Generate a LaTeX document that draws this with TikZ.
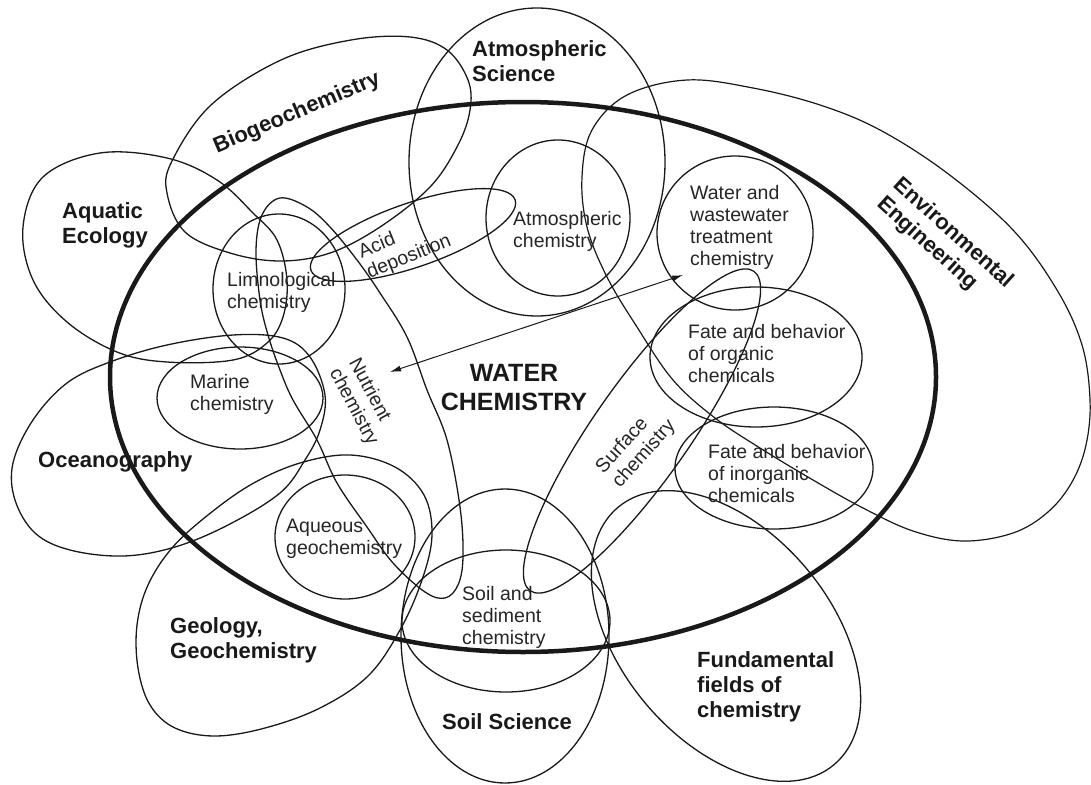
\documentclass[tikz,border=0pt]{standalone}
\usepackage{fontspec}
\setmainfont{Liberation Sans}
\usetikzlibrary{arrows.meta}
\begin{document}
\begin{tikzpicture}[x=1pt,y=-1pt,
  ring/.style={line width=1.3pt, black!90},
  mainring/.style={line width=4.5pt, black!90},
  boldlab/.style={font=\fontsize{22}{25}\selectfont\bfseries, align=left, inner sep=0pt, text=black!90},
  smalllab/.style={font=\fontsize{19.5}{22}\selectfont, align=left, inner sep=0pt, text=black!85},
  biglab/.style={font=\fontsize{25}{29}\selectfont\bfseries, align=center, inner sep=0pt, text=black!90},
  dblarrow/.style={line width=1pt, black!90, {Latex[length=11pt,width=6pt]}-{Latex[length=11pt,width=6pt]}}
]
\fill[white] (0,0) rectangle (1091,784);
\useasboundingbox (0,0) rectangle (1091,784);

% main water chemistry ellipse
\draw[mainring] (523,377) ellipse [x radius=413, y radius=275];

% Atmospheric Science
\draw[ring] (537,162) ellipse [x radius=128, y radius=154];
% Atmospheric chemistry
\draw[ring] (558,218) ellipse [x radius=72, y radius=78];
% Acid deposition
\draw[ring, rotate around={19:(413,235)}] (413,235) ellipse [x radius=108, y radius=32];
% Water and wastewater
\draw[ring] (735,233) ellipse [x radius=78, y radius=77];
% Fate organic
\draw[ring] (756,357) ellipse [x radius=106, y radius=70];
% Fate inorganic
\draw[ring] (774,468) ellipse [x radius=99, y radius=61];
% Limnological
\draw[ring] (279,289) ellipse [x radius=66, y radius=75];
% Marine
\draw[ring] (240,398) ellipse [x radius=83, y radius=51];
% Aqueous
\draw[ring] (345,537) ellipse [x radius=70, y radius=62];
% Soil science and soil sediment
\draw[ring] (505,636) ellipse [x radius=104, y radius=147];
\draw[ring] (506,621) ellipse [x radius=104, y radius=71];
% Surface chemistry
\draw[ring, rotate around={55:(642,431)}] (642,431) ellipse [x radius=195, y radius=48];
% Fundamental fields
\draw[ring, rotate around={-50:(726,636)}] (726,636) ellipse [x radius=168, y radius=105];

% Environmental Engineering
\draw[ring, line width=1.2pt] plot[smooth cycle, tension=0.6] coordinates {
 (687,80) (753,88) (820,105) (880,130) (947,173) (1013,230) (1057,290)
 (1082,345) (1090,400) (1086,445) (1072,482) (1048,512) (1013,533) (963,541)
 (913,531) (863,508) (813,480) (760,448) (715,418) (673,380) (637,327)
 (607,277) (587,227) (582,177) (592,130) (627,95)};
% Biogeochemistry
\draw[ring] plot[smooth cycle, tension=0.6] coordinates {
 (167,193) (172,161) (211,105) (281,60) (351,40) (410,37) (447,50) (468,80)
 (470,110) (458,145) (430,187) (380,227) (330,253) (280,261) (230,253) (185,232)};
% Aquatic Ecology
\draw[ring] plot[smooth cycle, tension=0.6] coordinates {
 (23,227) (43,177) (100,153) (167,158) (217,180) (253,213) (277,240) (287,280)
 (283,317) (267,343) (233,360) (167,362) (117,352) (67,322) (33,280)};
% Oceanography
\draw[ring] plot[smooth cycle, tension=0.6] coordinates {
 (110,362) (167,345) (233,335) (283,338) (310,357) (325,395) (320,430) (305,460)
 (280,493) (228,525) (175,547) (123,556) (70,550) (35,533) (15,500) (13,463)
 (33,420) (67,383)};
% Geology
\draw[ring] plot[smooth cycle, tension=0.6] coordinates {
 (350,455) (395,467) (424,495) (432,535) (422,580) (400,630) (368,676) (320,708)
 (265,728) (215,736) (175,728) (150,705) (138,668) (137,625) (148,585) (172,548)
 (208,515) (252,484) (300,463)};
% Nutrient chemistry loop
\draw[ring] plot[smooth cycle, tension=0.6] coordinates {
 (280,198) (307,207) (330,227) (357,260) (380,293) (407,337) (427,390) (447,440)
 (460,507) (463,557) (458,585) (445,598) (425,592) (393,563) (367,527) (337,483)
 (317,440) (293,400) (280,370) (268,335) (260,300) (256,250) (262,215)};

% double arrow
\coordinate (arrA) at (390,372);
\coordinate (arrB) at (683,275);
\draw[dblarrow] (arrA) -- (arrB);

% labels
\node[boldlab, anchor=west] (atmsci) at (472,61) {Atmospheric\\Science};
\node[boldlab, rotate=23] (biogeo) at (297,113) {Biogeochemistry};
\node[boldlab, anchor=west] (aquatic) at (62,225) {Aquatic\\Ecology};
\node[smalllab, anchor=west] (limno) at (227,292) {Limnological\\chemistry};
\node[smalllab, rotate=22] (acid) at (405,247) {Acid\\deposition};
\node[smalllab, anchor=west] (atmchem) at (513,231) {Atmospheric\\chemistry};
\node[smalllab, anchor=west] (water) at (690,227) {Water and\\wastewater\\treatment\\chemistry};
\node[smalllab, anchor=west] (fateorg) at (688,354) {Fate and behavior\\of organic\\chemicals};
\node[biglab] (waterchem) at (514,388) {WATER\\CHEMISTRY};
\node[smalllab, rotate=-62] (nutrient) at (363,402) {Nutrient\\chemistry};
\node[smalllab, anchor=west] (marine) at (190,394) {Marine\\chemistry};
\node[boldlab, anchor=west] (ocean) at (38,462) {Oceanography};
\node[smalllab, rotate=48] (surface) at (636,447) {Surface\\chemistry};
\node[smalllab, anchor=west] (fateinorg) at (708,474) {Fate and behavior\\of inorganic\\chemicals};
\node[smalllab, anchor=west] (aqueous) at (286,539) {Aqueous\\geochemistry};
\node[smalllab, anchor=west] (soilsed) at (462,617) {Soil and\\sediment\\chemistry};
\node[boldlab, anchor=west] (geology) at (170,640) {Geology,\\Geochemistry};
\node[boldlab, anchor=west] (soilsci) at (442,722) {Soil Science};
\node[boldlab, anchor=west] (fund) at (697,687) {Fundamental\\fields of\\chemistry};
\node[boldlab, rotate=-42] (enveng) at (945,243) {Environmental\\Engineering};
\end{tikzpicture}
\end{document}
